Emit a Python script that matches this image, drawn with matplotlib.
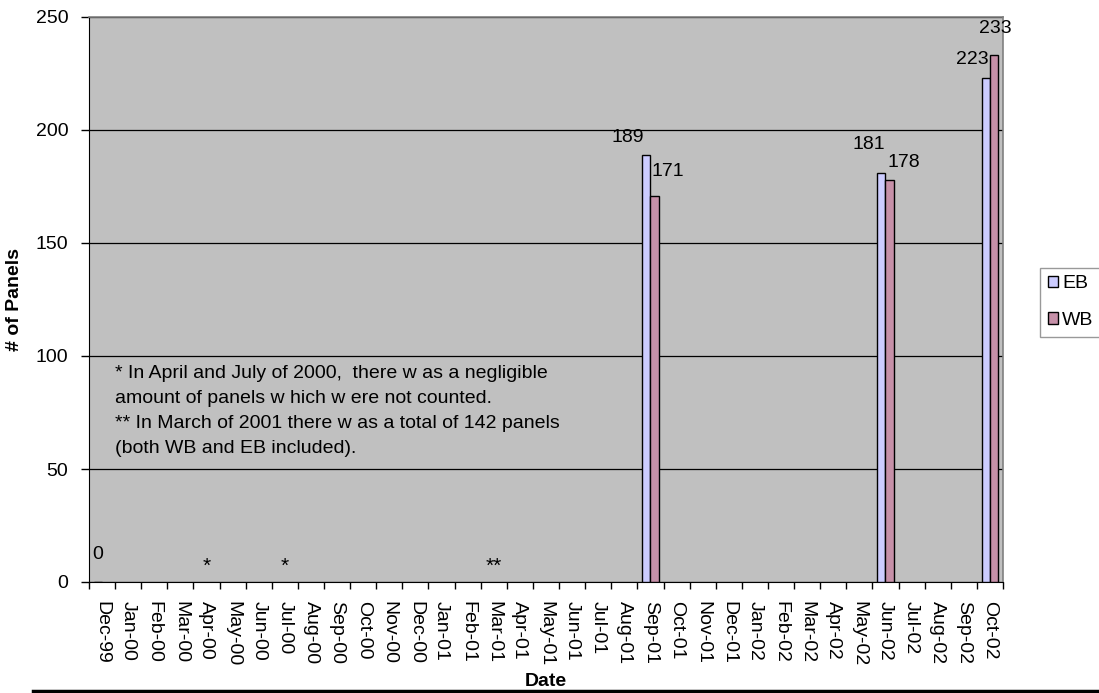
import numpy as np
import matplotlib
matplotlib.use("Agg")
import matplotlib.pyplot as plt
from matplotlib.patches import Patch

plt.rcParams['font.family'] = ['Liberation Sans', 'DejaVu Sans']

# 月份序列 Dec-99 .. Oct-02
months = ["Dec-99",
          "Jan-00", "Feb-00", "Mar-00", "Apr-00", "May-00", "Jun-00",
          "Jul-00", "Aug-00", "Sep-00", "Oct-00", "Nov-00", "Dec-00",
          "Jan-01", "Feb-01", "Mar-01", "Apr-01", "May-01", "Jun-01",
          "Jul-01", "Aug-01", "Sep-01", "Oct-01", "Nov-01", "Dec-01",
          "Jan-02", "Feb-02", "Mar-02", "Apr-02", "May-02", "Jun-02",
          "Jul-02", "Aug-02", "Sep-02", "Oct-02"]

# 只有几次统计，其余月份没有数据
eb_panels = {"Dec-99": 0, "Sep-01": 189, "Jun-02": 181, "Oct-02": 223}
wb_panels = {"Sep-01": 171, "Jun-02": 178, "Oct-02": 233}

# 未计数月份的星号标记
star_marks = {"Apr-00": "*", "Jul-00": "*", "Mar-01": "**"}

note = ("* In April and July of 2000,  there w as a negligible\n"
        "amount of panels w hich w ere not counted.\n"
        "** In March of 2001 there w as a total of 142 panels\n"
        "(both WB and EB included).")

EB_C = "#CCCCFF"
WB_C = "#C690A8"
BG_PLOT = "#C0C0C0"
FS = 14

eb = np.array([eb_panels.get(m, np.nan) for m in months], dtype=float)
wb = np.array([wb_panels.get(m, np.nan) for m in months], dtype=float)
x = np.arange(len(months))
bw = 0.31

fig = plt.figure(figsize=(10.99, 6.93), dpi=100, facecolor="white")
ax = fig.add_axes([89 / 1099, 1 - 582 / 693, 914 / 1099, 565 / 693])
ax.set_facecolor(BG_PLOT)

ax.bar(x - bw / 2, eb, width=bw, color=EB_C, edgecolor="black", linewidth=1.0, zorder=3)
ax.bar(x + bw / 2, wb, width=bw, color=WB_C, edgecolor="black", linewidth=1.0, zorder=3)

# 数值标签（偏移量单位：像素）
lbl_off_eb = {"Dec-99": (0, 19), "Sep-01": (-19, 9), "Jun-02": (-13, 20), "Oct-02": (-14, 10)}
lbl_off_wb = {"Sep-01": (13, 16), "Jun-02": (14, 9), "Oct-02": (1, 18)}
px = 72 / 100
for vals, offs, sgn in ((eb, lbl_off_eb, -1), (wb, lbl_off_wb, 1)):
    for i, m in enumerate(months):
        if np.isnan(vals[i]):
            continue
        dx, dy = offs.get(m, (0, 10))
        ax.annotate(f"{int(vals[i])}", (x[i] + sgn * bw / 2, vals[i]),
                    xytext=(dx * px, dy * px), textcoords="offset points",
                    ha="center", va="bottom", fontsize=FS, zorder=5,
                    annotation_clip=False)

for m, s in star_marks.items():
    i = months.index(m)
    ax.text(x[i], 4.5, s, ha="center", va="baseline", fontsize=FS + 1, zorder=5)

ax.text(0.5, 75.5, note, ha="left", va="center", fontsize=FS, linespacing=1.62, zorder=5)

ax.set_xlim(-0.5, len(months) - 0.5)
ax.set_ylim(0, 250)
ax.set_yticks(np.arange(0, 251, 50))
ax.yaxis.grid(True, color="black", linewidth=0.9, zorder=1)
ax.set_axisbelow(True)

ax.set_xticks(x)
ax.set_xticklabels(months, rotation=270, fontsize=FS)
ax.set_xticks(np.arange(-0.5, len(months), 1), minor=True)
ax.tick_params(axis="x", which="major", length=0, pad=14)
ax.tick_params(axis="x", which="minor", length=5, width=1, color="black")
ax.tick_params(axis="y", length=6, width=1, labelsize=FS, pad=9)

for side in ("top", "right"):
    ax.spines[side].set_color("#808080")
    ax.spines[side].set_linewidth(1.2)
ax.spines["left"].set_color("black")
ax.spines["bottom"].set_color("black")

ax.set_ylabel("# of Panels", fontsize=FS, fontweight="bold")
ax.yaxis.set_label_coords(-0.072, 0.5)
fig.text(546 / 1099, 1 - 682 / 693, "Date", ha="center", va="center", fontsize=FS, fontweight="bold")

handles = [Patch(facecolor=EB_C, edgecolor="black", label="EB"),
           Patch(facecolor=WB_C, edgecolor="black", label="WB")]
leg = fig.legend(handles=handles, loc="center left", bbox_to_anchor=(1040 / 1099, 1 - 302 / 693),
                 fontsize=FS, handlelength=0.55, handleheight=0.55, handletextpad=0.2,
                 labelspacing=1.0, borderpad=0.4, borderaxespad=0, fancybox=False, frameon=True)
leg.get_frame().set_edgecolor("#808080")
leg.get_frame().set_linewidth(1.0)

fig.add_artist(plt.Line2D([33 / 1099, 1.0], [1 - 691 / 693, 1 - 691 / 693],
                          transform=fig.transFigure, color="black", linewidth=2.5))

fig.savefig("out.png", dpi=100, facecolor="white")
